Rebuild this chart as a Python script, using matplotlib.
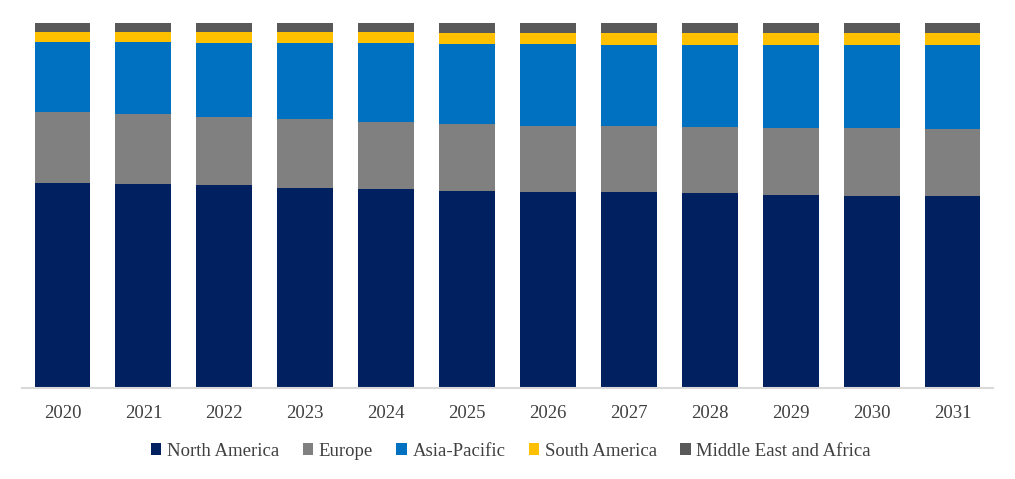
import matplotlib
matplotlib.use("Agg")
import matplotlib.pyplot as plt
import numpy as np

years = ["2020", "2021", "2022", "2023", "2024", "2025", "2026", "2027", "2028", "2029", "2030", "2031"]
north_america = [56.3, 56.0, 55.5, 54.9, 54.4, 54.1, 53.6, 53.6, 53.3, 53.0, 52.7, 52.5]
europe = [19.2, 19.0, 18.7, 18.7, 18.4, 18.1, 18.1, 18.1, 18.1, 18.1, 18.4, 18.4]
asia_pacific = [19.2, 19.8, 20.3, 20.9, 21.7, 22.0, 22.5, 22.3, 22.5, 22.8, 22.8, 23.1]
south_america = [2.8, 2.7, 3.0, 3.0, 3.0, 3.0, 3.0, 3.3, 3.3, 3.3, 3.3, 3.3]
mea = [2.5, 2.5, 2.5, 2.5, 2.5, 2.8, 2.8, 2.7, 2.8, 2.8, 2.8, 2.7]

series = [
    ("North America", north_america, "#002060"),
    ("Europe", europe, "#808080"),
    ("Asia-Pacific", asia_pacific, "#0070C0"),
    ("South America", south_america, "#FFC000"),
    ("Middle East and Africa", mea, "#595959"),
]

plt.rcParams["font.family"] = ["Liberation Serif", "DejaVu Serif"]

fig = plt.figure(figsize=(10.15, 4.79), dpi=100)
ax = fig.add_axes([22/1015, 1-388/479, (993-22)/1015, (388-23)/479])

x = np.arange(len(years))
totals = np.zeros(len(years))
for name, vals, col in series:
    totals += np.array(vals, dtype=float)
bottom = np.zeros(len(years))
for name, vals, col in series:
    v = np.array(vals, dtype=float) / totals * 100
    ax.bar(x, v, 0.69, bottom=bottom, color=col, label=name, linewidth=0)
    bottom += v

ax.set_xlim(-0.5, len(years) - 0.5)
ax.set_ylim(0, 100)
ax.set_xticks(x)
ax.set_xticklabels(years, fontsize=13.5, color="#404040")
ax.tick_params(axis="x", length=0, pad=12)
ax.set_yticks([])
for s in ["top", "right", "left"]:
    ax.spines[s].set_visible(False)
ax.spines["bottom"].set_color("#D9D9D9")
ax.spines["bottom"].set_linewidth(1.5)

handles, labels = ax.get_legend_handles_labels()
fig.legend(handles, labels, loc="center", bbox_to_anchor=(511/1015, 1-451/479), ncol=5,
           frameon=False, fontsize=13.5, handlelength=0.55, handleheight=0.55,
           handletextpad=0.3, columnspacing=1.25, labelcolor="#404040")

fig.savefig("out.png", dpi=100)
